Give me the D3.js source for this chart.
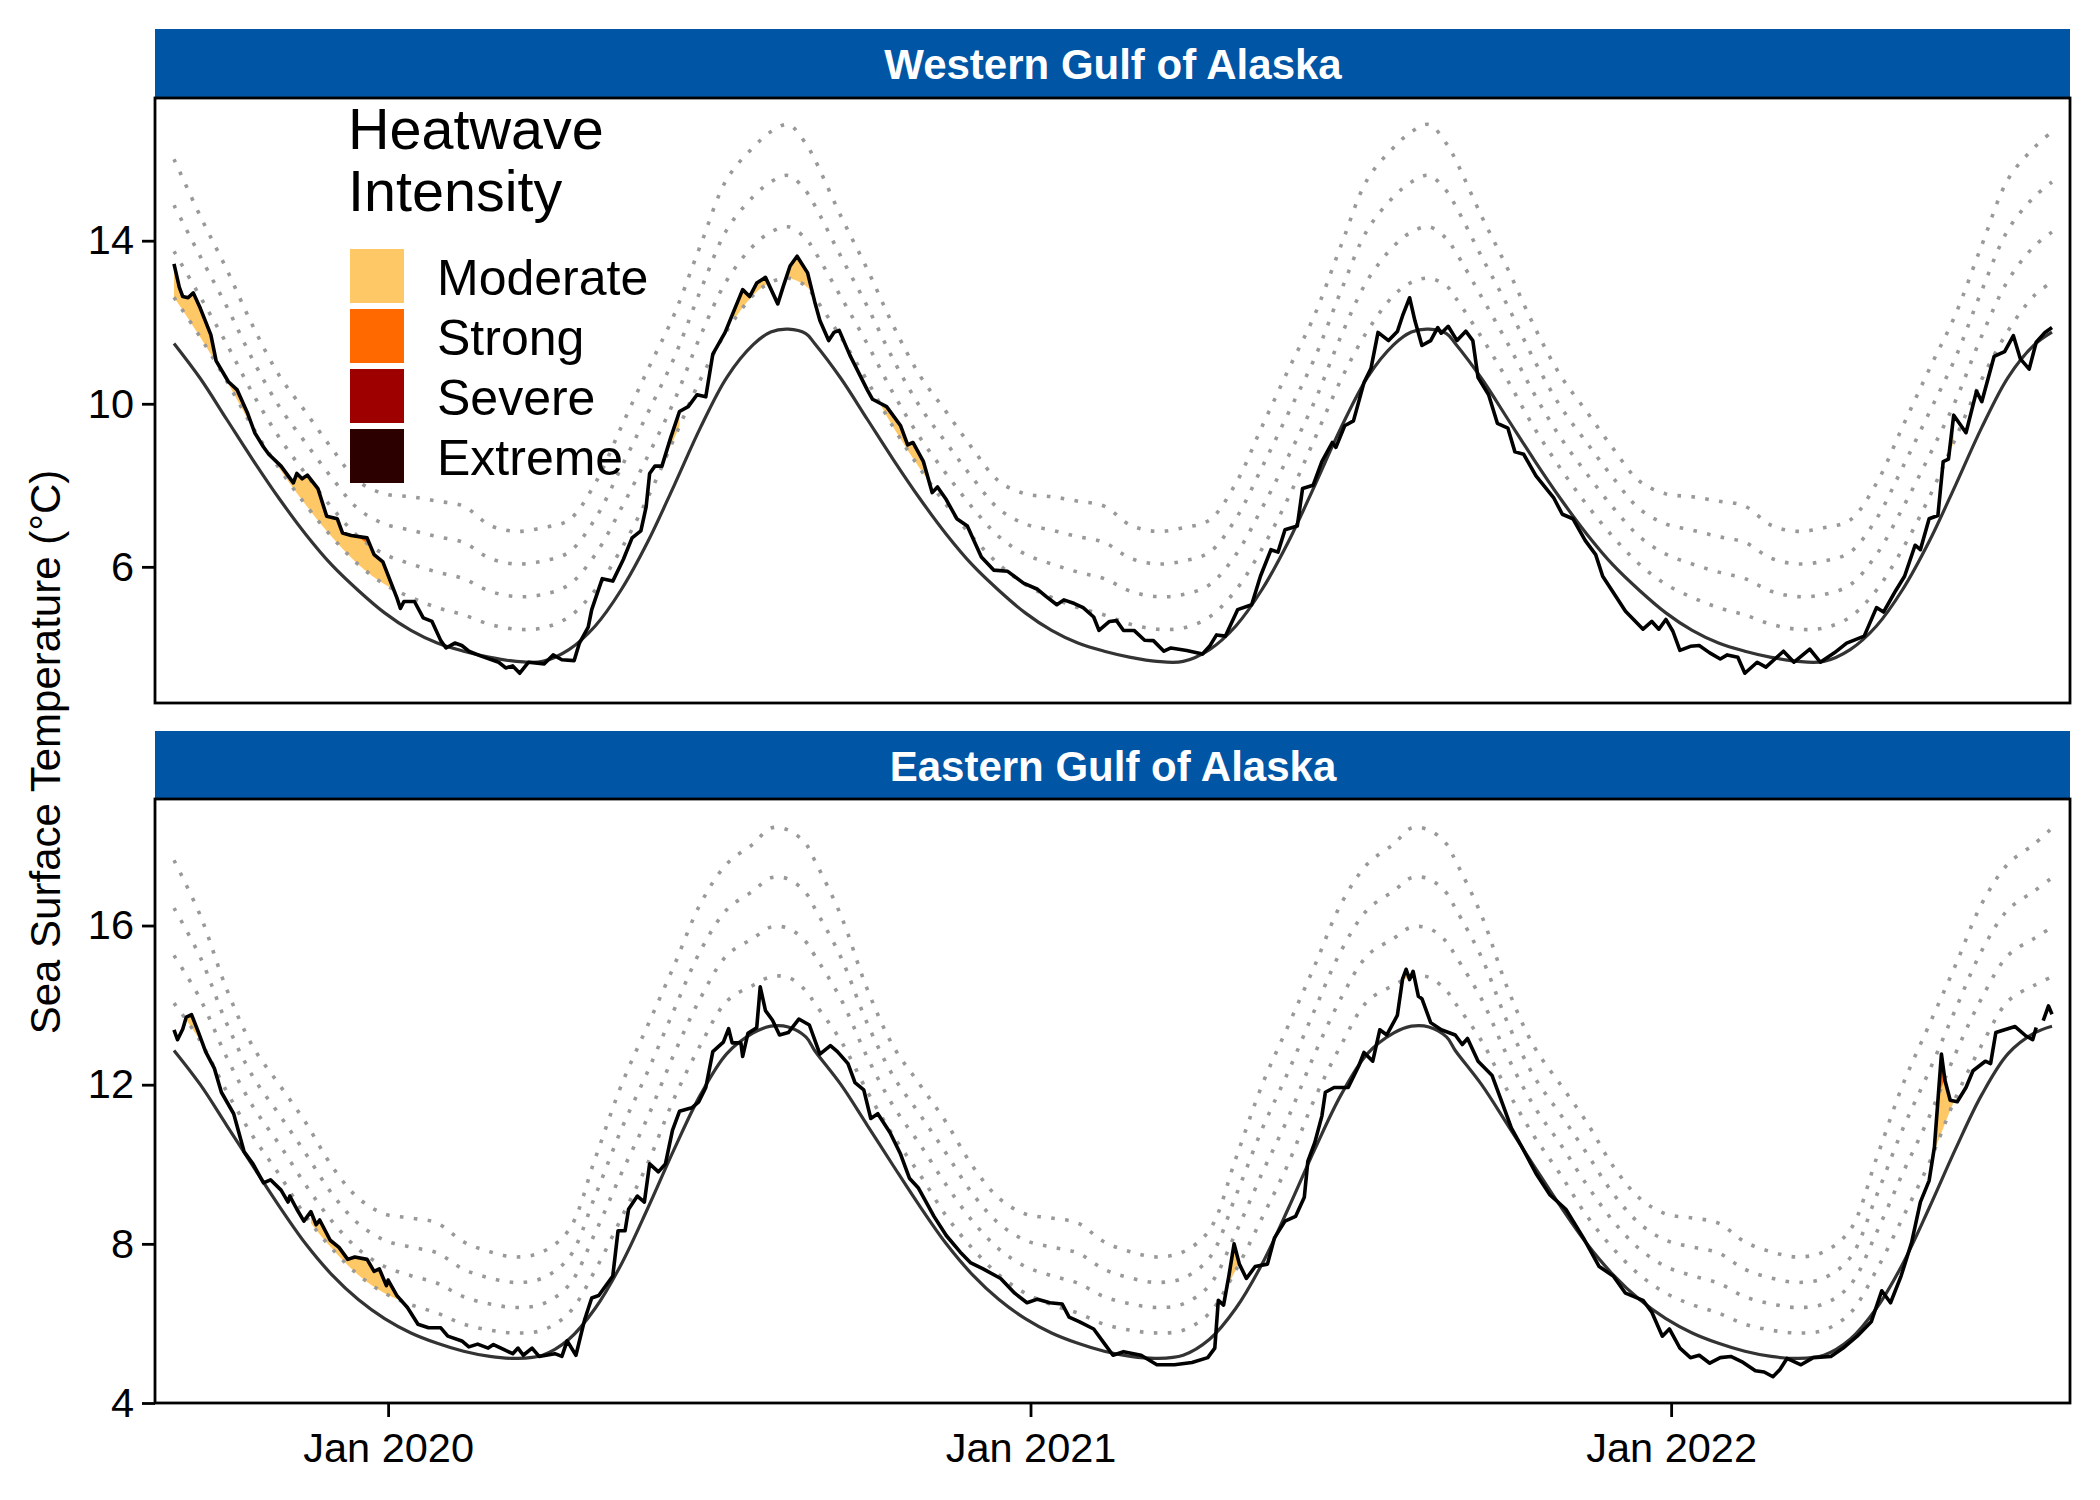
<!DOCTYPE html>
<html>
<head>
<meta charset="utf-8">
<script src="https://cdn.jsdelivr.net/npm/d3@7"></script>
<style>
  body { margin: 0; background: #fff; }
  text { font-family: "Liberation Sans", Arial, sans-serif; }
</style>
</head>
<body>
<div id="chart"></div>
<script>
// Days are counted from the first day of the record
let startDate = new Date(Date.UTC(2019, 8, 1))
let lastDay = 1070
let cycleLength = 365

// Seasonal cycle, read at these days after 1 Sep and repeated each year
let cycleDays = [0, 15, 30, 45, 60, 75, 90, 105, 120, 135, 150, 165, 180, 195, 210, 225, 240, 255, 270, 285, 300, 315, 330, 340, 350, 360]

let westClim = [11.48, 10.62, 9.62, 8.62, 7.67, 6.80, 6.04, 5.42, 4.87, 4.44, 4.13, 3.93, 3.78, 3.68, 3.68, 3.97, 4.55, 5.45, 6.62, 8.00, 9.42, 10.65, 11.45, 11.76, 11.83, 11.72]
let westT1 = [12.61, 11.63, 10.56, 9.41, 8.41, 7.52, 6.73, 6.06, 5.57, 5.25, 5.00, 4.82, 4.59, 4.47, 4.50, 4.77, 5.43, 6.45, 7.70, 9.15, 10.60, 11.79, 12.66, 12.98, 13.08, 12.89]
let westT2 = [13.74, 12.62, 11.47, 10.24, 9.17, 8.28, 7.45, 6.74, 6.31, 6.07, 5.87, 5.71, 5.40, 5.27, 5.32, 5.56, 6.30, 7.45, 8.72, 10.07, 11.67, 13.03, 13.87, 14.21, 14.34, 14.05]
let westT3 = [14.87, 13.61, 12.39, 11.07, 9.93, 9.04, 8.18, 7.42, 7.05, 6.90, 6.74, 6.60, 6.21, 6.07, 6.14, 6.36, 7.18, 8.45, 9.78, 11.13, 12.78, 14.27, 15.08, 15.44, 15.60, 15.22]
let westT4 = [16.00, 14.60, 13.30, 11.90, 10.69, 9.80, 8.90, 8.10, 7.79, 7.72, 7.61, 7.49, 7.02, 6.87, 6.96, 7.15, 8.05, 9.45, 10.84, 12.19, 13.89, 15.51, 16.29, 16.67, 16.85, 16.38]

let eastClim = [12.86, 12.00, 10.98, 9.95, 8.94, 8.00, 7.22, 6.60, 6.12, 5.76, 5.50, 5.30, 5.17, 5.12, 5.20, 5.60, 6.38, 7.50, 8.90, 10.38, 11.75, 12.78, 13.30, 13.47, 13.45, 13.20]
let eastT1 = [14.05, 13.10, 11.83, 10.70, 9.74, 8.70, 7.88, 7.22, 6.76, 6.47, 6.26, 5.98, 5.83, 5.76, 5.83, 6.26, 7.34, 8.66, 10.03, 11.66, 13.00, 14.10, 14.50, 14.71, 14.70, 14.36]
let eastT2 = [15.25, 14.15, 12.69, 11.45, 10.50, 9.48, 8.57, 7.87, 7.43, 7.20, 7.01, 6.67, 6.49, 6.40, 6.49, 6.96, 8.28, 9.78, 11.19, 12.78, 14.18, 15.25, 15.68, 15.96, 15.93, 15.59]
let eastT3 = [16.44, 15.20, 13.54, 12.20, 11.25, 10.27, 9.26, 8.51, 8.09, 7.92, 7.77, 7.36, 7.14, 7.03, 7.14, 7.65, 9.21, 10.89, 12.34, 13.89, 15.37, 16.40, 16.87, 17.20, 17.17, 16.82]
let eastT4 = [17.64, 16.25, 14.40, 12.95, 12.00, 11.05, 9.95, 9.15, 8.75, 8.65, 8.52, 8.05, 7.80, 7.67, 7.80, 8.35, 10.15, 12.00, 13.50, 15.00, 16.55, 17.55, 18.05, 18.45, 18.40, 18.05]

// Sea surface temperature
let westDays = [0, 3, 5, 8, 11, 15, 21, 24, 31, 36, 42, 46, 51, 54, 61, 68, 70, 73, 76, 82, 87, 93, 96, 101, 110, 114, 119, 124, 127, 129, 131, 137, 142, 147, 152, 155, 160, 164, 168, 175, 185, 189, 193, 197, 202, 211, 216, 221, 228, 231, 236, 238, 244, 250, 256, 261, 266, 269, 271, 274, 278, 283, 288, 293, 298, 303, 307, 314, 319, 324, 328, 332, 337, 344, 347, 351, 355, 361, 365, 368, 373, 376, 379, 385, 395, 398, 406, 414, 418, 421, 427, 432, 435, 440, 446, 452, 460, 467, 475, 484, 492, 497, 503, 507, 513, 518, 524, 527, 533, 537, 541, 547, 553, 558, 564, 568, 577, 586, 590, 594, 599, 606, 614, 619, 625, 629, 633, 640, 643, 649, 654, 660, 662, 667, 672, 678, 682, 686, 692, 697, 700, 704, 707, 711, 716, 720, 722, 726, 731, 736, 740, 743, 749, 754, 760, 764, 769, 776, 786, 791, 797, 804, 810, 814, 822, 827, 837, 842, 846, 850, 854, 858, 864, 869, 875, 881, 885, 891, 895, 902, 907, 917, 923, 932, 938, 946, 953, 963, 970, 974, 981, 986, 992, 995, 1000, 1005, 1008, 1011, 1014, 1021, 1027, 1030, 1037, 1043, 1048, 1052, 1057, 1061, 1066, 1070]
let westSst = [13.43, 12.86, 12.63, 12.6, 12.72, 12.34, 11.69, 11.05, 10.54, 10.34, 9.76, 9.29, 8.94, 8.76, 8.47, 8.06, 8.29, 8.16, 8.25, 7.92, 7.24, 7.18, 6.83, 6.77, 6.71, 6.3, 6.12, 5.57, 5.24, 4.98, 5.15, 5.15, 4.75, 4.66, 4.19, 4.01, 4.13, 4.07, 3.93, 3.81, 3.66, 3.52, 3.57, 3.39, 3.66, 3.62, 3.84, 3.72, 3.7, 4.13, 4.52, 4.95, 5.71, 5.65, 6.18, 6.71, 6.88, 7.47, 8.29, 8.47, 8.47, 9.17, 9.81, 9.93, 10.22, 10.17, 11.22, 11.75, 12.28, 12.8, 12.63, 12.96, 13.1, 12.45, 12.86, 13.38, 13.62, 13.21, 12.51, 12.04, 11.55, 11.75, 11.8, 11.2, 10.34, 10.11, 9.93, 9.46, 8.99, 9.05, 8.58, 7.82, 7.96, 7.65, 7.18, 7.0, 6.24, 5.92, 5.89, 5.6, 5.45, 5.27, 5.07, 5.19, 5.1, 5.0, 4.77, 4.44, 4.66, 4.68, 4.44, 4.44, 4.2, 4.19, 3.93, 4.01, 3.95, 3.86, 4.05, 4.33, 4.3, 4.95, 5.07, 5.77, 6.42, 6.36, 6.91, 7.0, 7.92, 8.0, 8.58, 9.05, 8.93, 9.46, 9.58, 10.52, 10.87, 11.75, 11.55, 11.77, 12.16, 12.6, 12.04, 11.43, 11.55, 11.87, 11.73, 11.9, 11.55, 11.78, 11.55, 10.64, 10.22, 9.52, 9.4, 8.82, 8.76, 8.23, 7.7, 7.29, 7.18, 6.65, 6.3, 5.77, 5.24, 4.91, 4.47, 4.66, 4.47, 4.71, 4.42, 3.95, 4.05, 4.07, 3.89, 3.74, 3.84, 3.78, 3.39, 3.66, 3.54, 3.93, 3.66, 3.98, 3.66, 3.89, 4.13, 4.3, 5.0, 4.89, 5.42, 5.77, 6.53, 6.42, 7.18, 7.26, 8.58, 8.64, 9.72, 9.29, 10.31, 10.05, 11.16, 11.28, 11.67, 11.1, 10.85, 11.51, 11.75, 11.87]

let eastDays = [0, 2, 5, 7, 10, 14, 18, 23, 27, 34, 40, 45, 51, 55, 61, 65, 66, 70, 74, 78, 81, 83, 89, 94, 99, 103, 110, 114, 117, 121, 122, 127, 133, 139, 145, 152, 156, 164, 168, 173, 179, 182, 189, 193, 196, 199, 204, 208, 217, 221, 224, 229, 234, 238, 242, 250, 253, 257, 259, 264, 268, 271, 276, 280, 284, 288, 295, 299, 303, 307, 313, 316, 318, 323, 324, 327, 332, 334, 337, 341, 345, 350, 356, 362, 368, 374, 378, 384, 388, 393, 397, 401, 408, 414, 419, 424, 433, 440, 448, 454, 461, 471, 479, 486, 492, 499, 506, 510, 516, 524, 530, 535, 541, 551, 560, 570, 580, 589, 593, 595, 598, 601, 604, 607, 611, 616, 623, 627, 633, 639, 644, 646, 650, 654, 656, 661, 669, 675, 678, 683, 687, 691, 697, 700, 702, 704, 706, 709, 711, 716, 722, 730, 734, 737, 743, 751, 757, 762, 768, 776, 784, 793, 803, 812, 820, 827, 837, 842, 848, 852, 858, 864, 869, 875, 881, 887, 894, 901, 906, 911, 915, 919, 927, 934, 944, 951, 959, 967, 973, 978, 984, 990, 995, 1000, 1003, 1007, 1009, 1012, 1016, 1021, 1025, 1032, 1035, 1038, 1043, 1049, 1055, 1059, 1061, 1063, 1065, 1068, 1070]
let eastSst = [13.38, 13.13, 13.4, 13.7, 13.76, 13.31, 12.83, 12.41, 11.81, 11.27, 10.31, 10.01, 9.53, 9.61, 9.35, 9.05, 9.2, 8.87, 8.57, 8.81, 8.48, 8.6, 8.09, 7.91, 7.61, 7.67, 7.61, 7.31, 7.37, 6.95, 7.09, 6.7, 6.4, 5.98, 5.89, 5.89, 5.68, 5.56, 5.41, 5.48, 5.38, 5.47, 5.32, 5.24, 5.38, 5.2, 5.38, 5.17, 5.24, 5.17, 5.56, 5.2, 6.1, 6.64, 6.7, 7.19, 8.33, 8.33, 8.87, 9.2, 9.05, 10.01, 9.81, 10.01, 10.85, 11.33, 11.42, 11.57, 11.93, 12.83, 13.07, 13.41, 13.05, 13.05, 12.71, 13.29, 13.43, 14.46, 13.86, 13.62, 13.25, 13.31, 13.65, 13.5, 12.77, 12.98, 12.83, 12.53, 12.05, 11.87, 11.15, 11.27, 10.79, 10.25, 9.65, 9.41, 8.69, 8.21, 7.79, 7.52, 7.37, 7.13, 6.76, 6.52, 6.61, 6.52, 6.49, 6.16, 6.04, 5.86, 5.5, 5.2, 5.29, 5.2, 4.96, 4.96, 5.02, 5.14, 5.38, 6.58, 6.46, 7.19, 8.0, 7.49, 7.13, 7.43, 7.49, 8.15, 8.57, 8.69, 9.17, 10.07, 10.55, 11.21, 11.81, 11.93, 11.93, 12.47, 12.81, 12.59, 13.38, 13.25, 13.74, 14.66, 14.9, 14.64, 14.85, 14.22, 14.16, 13.56, 13.38, 13.25, 13.01, 13.16, 12.59, 12.23, 11.51, 10.91, 10.43, 9.77, 9.23, 8.87, 8.15, 7.43, 7.19, 6.76, 6.58, 6.28, 5.68, 5.86, 5.38, 5.14, 5.2, 5.0, 5.14, 5.17, 5.02, 4.81, 4.78, 4.66, 4.84, 5.12, 4.96, 5.14, 5.17, 5.38, 5.68, 6.04, 6.82, 6.52, 7.19, 8.03, 9.05, 9.59, 10.43, 12.77, 12.11, 11.61, 11.57, 11.93, 12.35, 12.59, 12.53, 13.31, 13.38, 13.46, 13.23, 13.13, 13.44, null, 13.61, 13.98, 13.77]

// Heatwave events, first and last day
let westEvents = [[0, 127], [268, 271], [283, 288], [319, 368], [398, 432], [1005, 1016]]
let eastEvents = [[5, 23], [78, 127], [598, 611], [697, 707], [1000, 1021]]

let xTicks = [122, 488, 853]
let westTicks = [6, 10, 14]
let eastTicks = [4, 8, 12, 16]
let legendNames = ['Moderate', 'Strong', 'Severe', 'Extreme']
let legendColors = ['#FFC866', '#FF6900', '#9E0000', '#2D0000']

let width = 2100
let height = 1500

let svg = d3.select('#chart')
  .append('svg')
    .attr('width', width)
    .attr('height', height)
    .style('display', 'block')

function dayToDate(day) {
  return d3.utcDay.offset(startDate, day)
}

let x = d3.scaleUtc()
  .domain([dayToDate(0), dayToDate(lastDay)])
  .range([174, 2052])

// Repeat the seasonal values for every year in the record
function repeatCycle(values) {
  let rows = []
  for (let year = 0; year < 3; year++) {
    cycleDays.forEach((day, i) => {
      let d = year * cycleLength + day
      if (d <= lastDay) rows.push({ day: d, value: values[i] })
    })
  }
  return rows
}

function drawPanel(p) {
  let y = d3.scaleLinear().domain(p.yDomain).range([p.bottom, p.top])
  let g = svg.append('g')

  // Strip
  g.append('rect')
    .attr('x', 155)
    .attr('y', p.stripTop)
    .attr('width', 1915)
    .attr('height', p.top - p.stripTop)
    .attr('fill', '#0055A4')

  g.append('text')
    .attr('x', 1113)
    .attr('y', p.stripTop + 50)
    .attr('text-anchor', 'middle')
    .attr('font-size', 42)
    .attr('font-weight', 'bold')
    .attr('fill', '#fff')
    .text(p.title)

  let sstRows = p.days.map((day, i) => ({ day: day, value: p.sst[i] }))

  let smooth = d3.line()
    .x((d) => x(dayToDate(d.day)))
    .y((d) => y(d.value))
    .curve(d3.curveCatmullRom)

  let sstLine = d3.line()
    .defined((d) => d.value !== null)
    .x((d) => x(dayToDate(d.day)))
    .y((d) => y(d.value))

  // Heatwave fill: everything under the temperature, cut to what lies above the threshold
  let underSst = d3.area()
    .defined((d) => d.value !== null)
    .x((d) => x(dayToDate(d.day)))
    .y0(p.bottom)
    .y1((d) => y(d.value))

  let aboveThreshold = d3.area()
    .x((d) => x(dayToDate(d.day)))
    .y0(p.top)
    .y1((d) => y(d.value))
    .curve(d3.curveCatmullRom)

  p.thresholds.slice(0, 2).forEach((values, i) => {
    let id = `${p.id}-clip-${i}`
    g.append('clipPath')
      .attr('id', id)
      .append('path')
      .attr('d', aboveThreshold(repeatCycle(values)))

    p.events.forEach((event) => {
      let rows = sstRows.filter((d) => d.day >= event[0] && d.day <= event[1])
      g.append('path')
        .attr('d', underSst(rows))
        .attr('fill', legendColors[i])
        .attr('clip-path', `url(#${id})`)
    })
  })

  // Threshold lines
  p.thresholds.forEach((values) => {
    g.append('path')
      .attr('d', smooth(repeatCycle(values)))
      .attr('fill', 'none')
      .attr('stroke', '#999')
      .attr('stroke-width', 3.6)
      .attr('stroke-dasharray', '3.6 10.4')
  })

  g.append('path')
    .attr('d', smooth(repeatCycle(p.clim)))
    .attr('fill', 'none')
    .attr('stroke', '#333')
    .attr('stroke-width', 3.2)

  g.append('path')
    .attr('d', sstLine(sstRows))
    .attr('fill', 'none')
    .attr('stroke', '#000')
    .attr('stroke-width', 3.6)
    .attr('stroke-linejoin', 'round')

  // Border
  g.append('rect')
    .attr('x', 155)
    .attr('y', p.top)
    .attr('width', 1915)
    .attr('height', p.bottom - p.top)
    .attr('fill', 'none')
    .attr('stroke', '#000')
    .attr('stroke-width', 2.8)

  // Axes
  let yAxis = g.append('g')
    .attr('transform', 'translate(155,0)')
    .call(d3.axisLeft(y).tickValues(p.yTicks).tickSize(13).tickPadding(8))

  yAxis.select('.domain').remove()
  yAxis.selectAll('line').attr('stroke', '#000').attr('stroke-width', 2.8)
  yAxis.selectAll('text').attr('font-size', 41.5).attr('fill', '#000').style('font-family', '"Liberation Sans", Arial, sans-serif')

  if (p.showX) {
    let xAxis = g.append('g')
      .attr('transform', `translate(0,${p.bottom})`)
      .call(d3.axisBottom(x)
        .tickValues(xTicks.map(dayToDate))
        .tickFormat(d3.utcFormat('%b %Y'))
        .tickSize(14)
        .tickPadding(16))

    xAxis.select('.domain').remove()
    xAxis.selectAll('line').attr('stroke', '#000').attr('stroke-width', 2.8)
    xAxis.selectAll('text').attr('font-size', 41.5).attr('fill', '#000').style('font-family', '"Liberation Sans", Arial, sans-serif')
  }
}

drawPanel({
  id: 'west',
  title: 'Western Gulf of Alaska',
  stripTop: 29,
  top: 98,
  bottom: 703,
  yDomain: [2.66, 17.5],
  yTicks: westTicks,
  days: westDays,
  sst: westSst,
  clim: westClim,
  thresholds: [westT1, westT2, westT3, westT4],
  events: westEvents,
  showX: false,
})

drawPanel({
  id: 'east',
  title: 'Eastern Gulf of Alaska',
  stripTop: 731,
  top: 799,
  bottom: 1403,
  yDomain: [4, 19.18],
  yTicks: eastTicks,
  days: eastDays,
  sst: eastSst,
  clim: eastClim,
  thresholds: [eastT1, eastT2, eastT3, eastT4],
  events: eastEvents,
  showX: true,
})

// Y axis title
svg.append('text')
  .attr('transform', 'translate(60,752) rotate(-90)')
  .attr('text-anchor', 'middle')
  .attr('font-size', 42)
  .text('Sea Surface Temperature (°C)')

// Legend
let legend = svg.append('g')

legend.selectAll('text.title')
  .data(['Heatwave', 'Intensity'])
  .enter()
  .append('text')
    .attr('class', 'title')
    .attr('x', 348)
    .attr('y', (d, i) => 149 + i * 62)
    .attr('font-size', 57.5)
    .text((d) => d)

legend.selectAll('rect')
  .data(legendNames)
  .enter()
  .append('rect')
    .attr('x', 350)
    .attr('y', (d, i) => 249 + i * 60)
    .attr('width', 54)
    .attr('height', 54)
    .attr('fill', (d, i) => legendColors[i])

legend.selectAll('text.label')
  .data(legendNames)
  .enter()
  .append('text')
    .attr('class', 'label')
    .attr('x', 437)
    .attr('y', (d, i) => 295 + i * 60)
    .attr('font-size', 50)
    .text((d) => d)
</script>
</body>
</html>
